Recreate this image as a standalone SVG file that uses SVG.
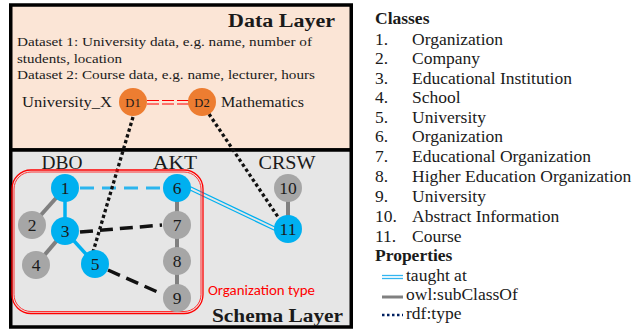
<svg xmlns="http://www.w3.org/2000/svg" width="636" height="329" viewBox="0 0 636 329">
<style>
.serif{font-family:"Liberation Serif","Times New Roman",serif;fill:#1a1a1a}
.bold{font-weight:bold}
.num{font-family:"Liberation Serif","Times New Roman",serif;font-size:17.5px;text-anchor:middle;fill:#1a1a1a}
.blue{fill:#00B0F0}
.gray{fill:#A6A6A6}
.orange{fill:#ED7D31}
.sub{stroke:#808080;stroke-width:4;fill:none}
.bsolid{stroke:#00B0F0;stroke-width:3.5;fill:none}
.bdash{stroke:#2BB5EE;stroke-width:3;stroke-dasharray:14 8;fill:none}
.kdash{stroke:#111;stroke-width:3.5;stroke-dasharray:13 7;fill:none}
.dot{stroke:#111;stroke-width:3.3;stroke-dasharray:3.3 2.7;fill:none}
.legend{font-family:"Liberation Serif","Times New Roman",serif;font-size:17.5px;fill:#1a1a1a}
</style>
<rect x="0" y="0" width="636" height="329" fill="#ffffff"/>
<!-- layers -->
<g id="data-layer">
<rect x="10.75" y="5" width="340.5" height="145" fill="#FBE5D6" stroke="#000" stroke-width="3.5"/>
<text class="serif bold" x="335" y="27" font-size="18" text-anchor="end" textLength="107" lengthAdjust="spacingAndGlyphs">Data Layer</text>
<text class="serif" x="17" y="46" font-size="13" textLength="295" lengthAdjust="spacingAndGlyphs">Dataset 1: University data, e.g. name, number of</text>
<text class="serif" x="17" y="63" font-size="13" textLength="105" lengthAdjust="spacingAndGlyphs">students, location</text>
<text class="serif" x="17" y="79" font-size="13" textLength="298" lengthAdjust="spacingAndGlyphs">Dataset 2: Course data, e.g. name, lecturer, hours</text>
<text class="serif" x="22" y="107" font-size="15" textLength="90" lengthAdjust="spacingAndGlyphs">University_X</text>
<text class="serif" x="221" y="107" font-size="15" textLength="83" lengthAdjust="spacingAndGlyphs">Mathematics</text>
</g>
<g id="schema-layer">
<rect x="10.75" y="150" width="340.5" height="177" fill="#E6E6E6" stroke="#000" stroke-width="3.5"/>
<text class="serif bold" x="343" y="322" font-size="18" text-anchor="end" textLength="131" lengthAdjust="spacingAndGlyphs">Schema Layer</text>
<text class="serif" x="62" y="169" font-size="19" text-anchor="middle" textLength="41" lengthAdjust="spacingAndGlyphs">DBO</text>
<text class="serif" x="175" y="169" font-size="19" text-anchor="middle" textLength="44" lengthAdjust="spacingAndGlyphs">AKT</text>
<text class="serif" x="287" y="169" font-size="19" text-anchor="middle" textLength="57" lengthAdjust="spacingAndGlyphs">CRSW</text>
</g>
<!-- connectors -->
<g id="connectors">
<line class="sub" x1="65" y1="188" x2="32" y2="225"/>
<line class="sub" x1="65" y1="231" x2="36" y2="265"/>
<line class="sub" x1="177" y1="188" x2="177" y2="298"/>
<line class="sub" x1="288" y1="188" x2="288" y2="229"/>
<line class="bsolid" x1="65" y1="188" x2="65" y2="231"/>
<line class="bsolid" x1="65" y1="231" x2="95" y2="264"/>
<line class="bdash" x1="80" y1="188" x2="163" y2="188"/>
<line class="kdash" x1="80" y1="232" x2="162" y2="225"/>
<line class="kdash" x1="108" y1="270" x2="162" y2="294"/>
<g stroke="#00B0F0" stroke-width="1.2" fill="none">
<line x1="190" y1="186.5" x2="276" y2="227.5"/>
<line x1="189" y1="189.5" x2="275" y2="230.5"/>
</g>
<line class="dot" x1="133" y1="117" x2="93" y2="252"/>
<line class="dot" x1="209" y1="114" x2="278" y2="217"/>
<g stroke="#FF0000" stroke-width="1.2" stroke-dasharray="12 3" fill="none">
<line x1="147" y1="100.5" x2="189" y2="100.5"/>
<line x1="147" y1="104" x2="189" y2="104"/>
</g>
</g>
<!-- organization type group -->
<g id="org-type">
<rect x="12" y="170" width="191" height="143.5" rx="19" fill="none" stroke="#FF0000" stroke-width="1.3"/>
<rect x="14" y="172" width="187" height="139.5" rx="17" fill="none" stroke="#FF3030" stroke-width="1"/>
<text x="208" y="295" font-family="Carlito,'Liberation Sans',Arial,sans-serif" font-size="14" fill="#FF0000" textLength="107" lengthAdjust="spacingAndGlyphs">Organization type</text>
</g>
<!-- nodes -->
<g id="n1"><circle class="blue" cx="65" cy="188" r="14"/><text class="num" x="65" y="194">1</text></g>
<g id="n2"><circle class="gray" cx="32" cy="225" r="14"/><text class="num" x="32" y="231">2</text></g>
<g id="n3"><circle class="blue" cx="65" cy="231" r="14"/><text class="num" x="65" y="237">3</text></g>
<g id="n4"><circle class="gray" cx="36" cy="265" r="14"/><text class="num" x="36" y="271">4</text></g>
<g id="n5"><circle class="blue" cx="95" cy="264" r="14"/><text class="num" x="95" y="270">5</text></g>
<g id="n6"><circle class="blue" cx="177" cy="188" r="14"/><text class="num" x="177" y="194">6</text></g>
<g id="n7"><circle class="gray" cx="177" cy="225" r="14"/><text class="num" x="177" y="231">7</text></g>
<g id="n8"><circle class="gray" cx="177" cy="261" r="14"/><text class="num" x="177" y="267">8</text></g>
<g id="n9"><circle class="gray" cx="177" cy="298" r="14"/><text class="num" x="177" y="304">9</text></g>
<g id="n10"><circle class="gray" cx="288" cy="188" r="14"/><text class="num" x="288" y="194">10</text></g>
<g id="n11"><circle class="blue" cx="288" cy="229" r="14"/><text class="num" x="288" y="235">11</text></g>
<g id="D1"><circle class="orange" cx="133" cy="102" r="14"/><text class="serif" x="133" y="106.5" font-size="12.5" text-anchor="middle">D1</text></g>
<g id="D2"><circle class="orange" cx="202" cy="102" r="14"/><text class="serif" x="202" y="106.5" font-size="12.5" text-anchor="middle">D2</text></g>
<!-- legend -->
<g id="legend" class="legend">
<text x="375" y="24" font-weight="bold">Classes</text>
<text x="375" y="45">1.</text><text x="412" y="45">Organization</text>
<text x="375" y="64">2.</text><text x="412" y="64">Company</text>
<text x="375" y="84">3.</text><text x="412" y="84">Educational Institution</text>
<text x="375" y="103">4.</text><text x="412" y="103">School</text>
<text x="375" y="123">5.</text><text x="412" y="123">University</text>
<text x="375" y="142">6.</text><text x="412" y="142">Organization</text>
<text x="375" y="162">7.</text><text x="412" y="162">Educational Organization</text>
<text x="375" y="182">8.</text><text x="412" y="182">Higher Education Organization</text>
<text x="375" y="202">9.</text><text x="412" y="202">University</text>
<text x="375" y="222">10.</text><text x="412" y="222">Abstract Information</text>
<text x="375" y="242">11.</text><text x="412" y="242">Course</text>
<text x="375" y="261" font-weight="bold">Properties</text>
<line x1="382" y1="275.5" x2="403" y2="275.5" stroke="#33B5F0" stroke-width="1.3"/>
<line x1="382" y1="278.5" x2="403" y2="278.5" stroke="#33B5F0" stroke-width="1.3"/>
<text x="406" y="281">taught at</text>
<line x1="382" y1="297" x2="403" y2="297" stroke="#808080" stroke-width="3"/>
<text x="406" y="300">owl:subClassOf</text>
<line x1="382" y1="315" x2="403" y2="315" stroke="#002060" stroke-width="2.5" stroke-dasharray="2.5 2.5"/>
<text x="406" y="319">rdf:type</text>
</g>
</svg>
